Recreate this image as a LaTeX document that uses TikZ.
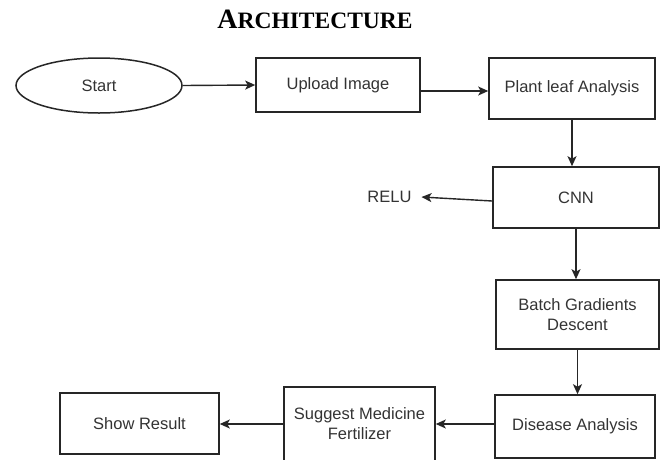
\documentclass[tikz,border=0pt]{standalone}
\usepackage{fontspec}
\setmainfont{Liberation Serif}
\setsansfont{Liberation Sans}
\usetikzlibrary{shapes.geometric,arrows.meta}
\definecolor{txt}{HTML}{333333}
\definecolor{ln}{HTML}{262626}
\tikzset{
  box/.style={draw=ln, line width=1.6pt, rectangle, inner sep=0pt, align=center,
    text=txt, font=\sffamily\fontsize{16.5}{20}\selectfont},
  oval/.style={draw=ln, line width=1.5pt, ellipse, inner sep=0pt,
    text=txt, font=\sffamily\fontsize{16.5}{20}\selectfont},
  lbl/.style={text=txt, font=\sffamily\fontsize{16.5}{20}\selectfont, inner sep=0pt},
  conn/.style={draw=ln, line width=1.4pt, -{Stealth[length=10pt,width=9pt,inset=2.5pt]}}
}
\begin{document}
\begin{tikzpicture}[x=1pt,y=-1pt]
\useasboundingbox (0,0) rectangle (665,459);
\clip (0,0) rectangle (665,459);
\node[anchor=base, inner sep=0pt, font=\bfseries] (title) at (315,28)
  {\fontsize{28}{30}\selectfont A\fontsize{23.5}{26}\selectfont RCHITECTURE};
\node[oval, minimum width=166pt, minimum height=55pt] (start) at (99,85.5) {Start};
\node[box, minimum width=164pt, minimum height=54pt] (upload) at (338,85) {Upload Image};
\node[box, minimum width=166pt, minimum height=61pt] (plant) at (572,88.5) {Plant leaf Analysis};
\node[box, minimum width=166pt, minimum height=61pt] (cnn) at (576,197.5) {CNN};
\node[lbl, outer xsep=10pt] (relu) at (389.5,197) {RELU};
\node[box, minimum width=163pt, minimum height=69pt] (batch) at (577.5,314.5) {Batch Gradients\\Descent};
\node[box, minimum width=160pt, minimum height=63pt] (disease) at (575,426.5) {Disease Analysis};
\node[box, minimum width=151pt, minimum height=74pt] (suggest) at (359.5,424) {Suggest Medicine\\Fertilizer};
\node[box, minimum width=159pt, minimum height=61pt] (show) at (139.5,423.5) {Show Result};

\draw[conn] (start.east) -- (upload.west);
\draw[conn] ([yshift=-6pt]upload.east) -- ([yshift=-2.5pt]plant.west);
\draw[conn] (plant.south) -- (plant.south |- cnn.north);
\draw[conn] ([yshift=-3.5pt]cnn.west) -- (relu.east);
\draw[conn] (cnn.south) -- (cnn.south |- batch.north);
\draw[conn] (batch.south) -- (batch.south |- disease.north);
\draw[conn] ([yshift=2.5pt]disease.west) -- ([yshift=2.5pt]disease.west -| suggest.east);
\draw[conn] (suggest.west) -- (suggest.west -| show.east);
\end{tikzpicture}
\end{document}
